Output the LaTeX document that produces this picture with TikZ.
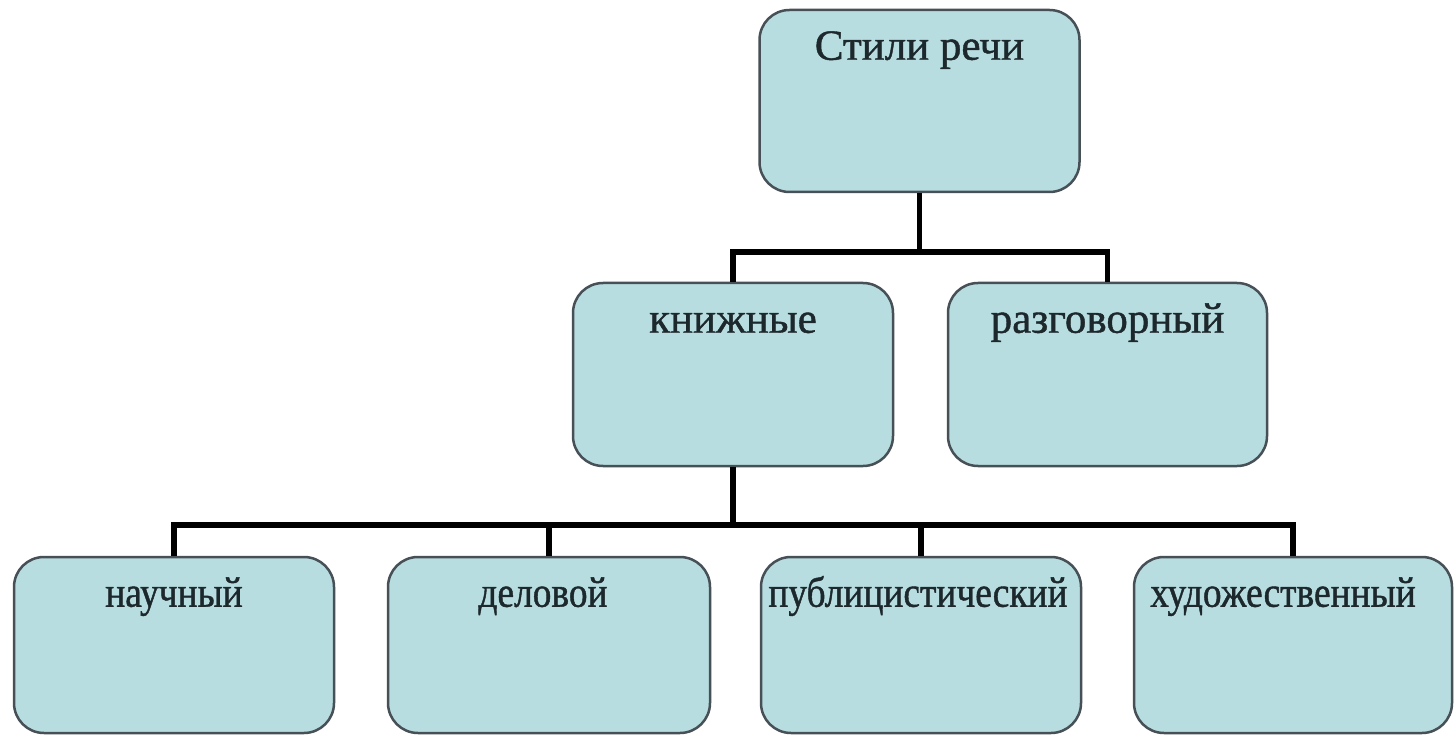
\documentclass[tikz,border=0pt]{standalone}
\usepackage{fontspec}
\setmainfont{Liberation Serif}
\newfontfamily\lblfont[FakeBold=1]{Liberation Serif}
\newfontfamily\condfont[FakeStretch=0.87,FakeBold=1]{Liberation Serif}
\definecolor{boxfill}{RGB}{184,221,224}
\definecolor{boxline}{RGB}{70,80,86}
\definecolor{txt}{RGB}{28,40,44}
\begin{document}
\begin{tikzpicture}[x=1pt,y=-1pt,
  stylebox/.style={draw=boxline, line width=2.5pt, fill=boxfill,
    rounded corners=30pt, minimum width=320pt, inner sep=0pt},
  toplbl/.style={label distance=-51pt, text=txt, anchor=base,
    font=\lblfont\fontsize{43}{50}\selectfont},
  botlbl/.style={label distance=-51pt, text=txt, anchor=base,
    font=\condfont\fontsize{43}{50}\selectfont},
  conn/.style={draw=black, line width=5.5pt, line join=miter}]
\useasboundingbox (0,0) rectangle (1454,735);
\fill[white] (0,0) rectangle (1454,735);

\node[stylebox, minimum height=182pt,
  label={[toplbl]north:Стили речи}] (top) at (919.5,101) {};
\node[stylebox, minimum height=183pt,
  label={[toplbl]north:книжные}] (knig) at (733,374.5) {};
\node[stylebox, minimum height=183pt, minimum width=319pt,
  label={[toplbl]north:разговорный}] (razg) at (1107.5,374.5) {};

\node[stylebox, minimum height=176pt,
  label={[botlbl]north:научный}] (nauch) at (174,645) {};
\node[stylebox, minimum height=176pt, minimum width=322pt,
  label={[botlbl, xshift=-6pt]north:деловой}] (delo) at (549,645) {};
\node[stylebox, minimum height=176pt,
  label={[botlbl, xshift=-3pt]north:публицистический}] (publ) at (921,645) {};
\node[stylebox, minimum height=176pt, minimum width=318pt,
  label={[botlbl, xshift=-10pt]north:художественный}] (khud) at (1293,645) {};

\coordinate (b1) at (0,252);
\coordinate (b2) at (0,525);

\draw[conn] (top.south) -- (top.south |- b1);
\draw[conn] (knig.north) -- (knig.north |- b1) -- (razg.north |- b1) -- (razg.north);

\draw[conn] (knig.south) -- (knig.south |- b2);
\draw[conn] (nauch.north) -- (nauch.north |- b2) -- (khud.north |- b2) -- (khud.north);
\draw[conn] (delo.north) -- (delo.north |- b2);
\draw[conn] (publ.north) -- (publ.north |- b2);
\end{tikzpicture}
\end{document}
